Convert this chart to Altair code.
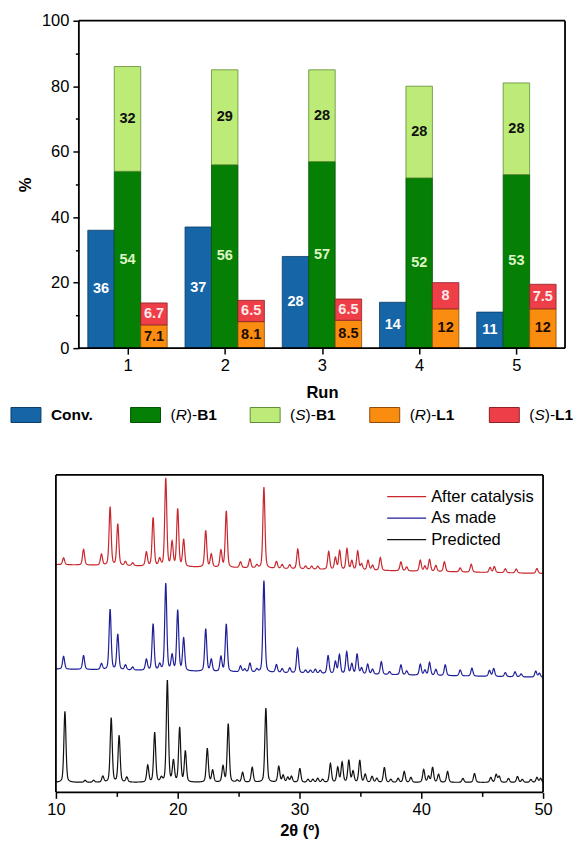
import numpy as np
import pandas as pd
import altair as alt

alt.data_transformers.disable_max_rows()

FONT = "Liberation Sans"

# ---------------- data: top panel (catalytic runs) ----------------
runs = [1, 2, 3, 4, 5]
conv = [36, 37, 28, 14, 11]
r_b1 = [54, 56, 57, 52, 53]
s_b1 = [32, 29, 28, 28, 28]
r_l1 = [7.1, 8.1, 8.5, 12, 12]
s_l1 = [6.7, 6.5, 6.5, 8, 7.5]
series = ["Conv.", "(R)-B1", "(S)-B1", "(R)-L1", "(S)-L1"]

# ---------------- data: PXRD patterns (peak 2θ, peak height, baseline left/right) ----------------
xrd_series = ["After catalysis", "As made", "Predicted"]
pred_pos = [10.74, 12.4, 13.1, 13.85, 14.54, 15.19, 15.82, 17.54, 18.11, 18.66, 19.15, 19.65, 20.16, 20.63,
            22.43, 22.87, 23.72, 24.15, 24.89, 25.33, 26.12, 27.24, 28.3, 28.66, 29.04, 29.34, 30.03, 30.7,
            31.1, 31.5, 31.9, 32.54, 33.14, 33.5, 34.05, 34.4, 34.95, 35.4, 35.96, 36.35, 36.97, 37.5, 38.1,
            38.6, 39.15, 40.2, 40.6, 40.93, 41.42, 42.16, 43.42, 44.37, 45.71, 46.15, 46.4, 47.16, 47.9,
            48.3, 49.0, 49.5, 49.8]
pred_int = [72, 2, 2, 6, 65, 47, 5, 17, 50, 4, 103, 21, 55, 31,
            34, 12, 16, 59, 2, 10, 15, 75, 16, 7, 5, 6, 14, 3,
            3, 4, 3, 19, 15, 20, 22, 11, 22, 8, 6, 4, 15, 3, 4,
            11, 5, 13, 6, 15, 8, 11, 4, 9, 5, 8, 6, 4, 6,
            3, 3, 5, 4]
pred_base = [10, 10]

made_pos = [10.63, 12.27, 13.74, 14.45, 15.08, 15.71, 16.3, 17.43, 17.98, 18.52, 19.02, 19.54, 20.0, 20.49,
            22.3, 22.76, 23.55, 23.99, 25.16, 25.5, 25.93, 26.5, 27.08, 28.11, 28.58, 29.2, 29.84, 30.5,
            30.9, 31.3, 31.7, 32.35, 32.95, 33.28, 33.88, 34.3, 34.73, 35.1, 35.6, 36.0, 36.72, 37.4,
            38.33, 38.8, 39.92, 40.3, 40.68, 41.2, 41.97, 43.2, 44.16, 45.6, 45.95, 46.9, 47.7, 48.2, 49.4, 49.7]
made_int = [13, 14, 6, 61, 36, 5, 3, 11, 47, 6, 88, 15, 61, 33,
            43, 12, 15, 48, 6, 3, 9, 3, 93, 8, 4, 5, 25, 3,
            3, 4, 3, 18, 12, 19, 22, 10, 20, 6, 10, 5, 13, 3,
            10, 4, 11, 5, 13, 6, 11, 6, 8, 6, 8, 4, 5, 3, 6, 4]
made_base = [124.7, 116.3]

cat_pos = [10.63, 12.27, 13.74, 14.45, 15.08, 15.71, 16.3, 17.43, 17.98, 18.52, 19.02, 19.54, 20.0, 20.49,
           22.3, 22.76, 23.55, 23.99, 25.16, 25.93, 26.5, 27.08, 28.11, 28.58, 29.2, 29.86, 30.5, 31.0,
           31.5, 32.4, 32.95, 33.3, 33.9, 34.3, 34.78, 35.1, 35.63, 36.0, 36.64, 38.33, 38.8, 39.92,
           40.3, 40.68, 41.2, 41.9, 43.2, 44.1, 45.65, 46.0, 46.9, 47.8, 49.5]
cat_int = [7, 16, 11, 59, 42, 4, 3, 14, 49, 7, 89, 24, 58, 27,
           37, 13, 17, 57, 6, 9, 3, 82, 7, 4, 4, 20, 3, 3,
           3, 18, 12, 19, 21, 9, 19, 6, 10, 5, 13, 9, 4, 11,
           5, 12, 6, 10, 4, 8, 5, 6, 4, 4, 5]
cat_base = [230.3, 221.3]

# ---------------- styles ----------------
fill_colors = ["#1565a7", "#058005", "#bdeb78", "#fa8c10", "#ee3f48"]
edge_colors = ["#0c3c68", "#025202", "#5f8c36", "#8c4c08", "#8c2026"]
label_colors = ["#ffffff", "#def5c6", "#111111", "#1c0d00", "#ffeaea"]
line_colors = ["#c8282d", "#1f1f99", "#111111"]

# ---------------- top panel ----------------
PX_RUN = 97.4
LEFT_GAP = 23.0
X_LO = 0.5 - LEFT_GAP / PX_RUN
X_HI = 5.5
TOP_W = 510
TOP_H = 328
BAR_W = 26.5 / PX_RUN

rows = []
for i, run in enumerate(runs):
    segs = [(series[0], -1, 0.0, conv[i]),
            (series[1], 0, 0.0, r_b1[i]),
            (series[2], 0, r_b1[i], s_b1[i]),
            (series[3], 1, 0.0, r_l1[i]),
            (series[4], 1, r_l1[i], s_l1[i])]
    for name, shift, base, val in segs:
        c = run + shift * BAR_W
        rows.append({"run": run, "series": name, "x0": c - BAR_W / 2, "x1": c + BAR_W / 2, "xc": c,
                     "y0": base, "y1": base + val, "ym": base + val / 2, "label": f"{val:g}"})
bars_df = pd.DataFrame(rows)

x_top = alt.Scale(domain=[X_LO, X_HI], nice=False, zero=False)
y_top = alt.Scale(domain=[0, 100], nice=False)
fill_scale = alt.Scale(domain=series, range=fill_colors)
edge_scale = alt.Scale(domain=series, range=edge_colors)
label_scale = alt.Scale(domain=series, range=label_colors)

x_top_axis = alt.Axis(values=runs, format="d", tickSize=6, tickWidth=1.5, tickColor="black",
                      labelFont=FONT, labelFontSize=16.5, labelColor="black", labelPadding=3,
                      labelFlush=False, domain=False, grid=False,
                      title="Run", titleFont=FONT, titleFontSize=16.5, titleFontWeight="bold",
                      titleColor="black", titlePadding=11, titleX=(3 - X_LO) * PX_RUN)
y_top_axis = alt.Axis(values=list(range(0, 101, 10)),
                      labelExpr="datum.value % 20 === 0 ? datum.label : ''",
                      tickSize={"condition": {"test": "datum.value % 20 === 0", "value": 6}, "value": 3.5},
                      tickWidth=1.5, tickColor="black", offset=-LEFT_GAP, domain=False, grid=False,
                      labelFont=FONT, labelFontSize=16.5, labelColor="black", labelPadding=4,
                      title="%", titleFont=FONT, titleFontSize=16.5, titleFontWeight="bold",
                      titleColor="black", titlePadding=8)


def XT(field):
    return alt.X(field, type="quantitative", scale=x_top, axis=x_top_axis)


def YT(field):
    return alt.Y(field, type="quantitative", scale=y_top, axis=y_top_axis)


top_frame = pd.DataFrame({"x": [0.5, 5.5, 0.5, 0.5], "x2": [0.5, 5.5, 5.5, 5.5],
                          "y": [0, 0, 0, 100], "y2": [100, 100, 0, 100]})

bars = alt.Chart(bars_df).mark_rect(strokeWidth=0.8).encode(
    x=XT("x0"), x2="x1", y=YT("y0"), y2="y1",
    fill=alt.Fill("series:N", scale=fill_scale, legend=None),
    stroke=alt.Stroke("series:N", scale=edge_scale, legend=None))
bar_labels = alt.Chart(bars_df).mark_text(font=FONT, fontSize=14.5, fontWeight="bold",
                                          align="center", baseline="middle").encode(
    x=XT("xc"), y=YT("ym"), text="label:N",
    color=alt.Color("series:N", scale=label_scale, legend=None))
top_box = alt.Chart(top_frame).mark_rule(color="black", strokeWidth=1.8).encode(
    x=XT("x"), x2="x2", y=YT("y"), y2="y2")
top = alt.layer(bars, bar_labels, top_box).properties(width=TOP_W, height=TOP_H)

# ---------------- custom legend row (mixed italic / bold labels) ----------------
LEG_FS = 15.5
LEG_PX = 119.8      # px between legend items
LEG_FIRST = -30.0   # first swatch centre relative to the plot origin (px)
d0 = -LEG_FIRST / LEG_PX
leg_scale = alt.Scale(domain=[d0, d0 + TOP_W / LEG_PX], nice=False, zero=False)
leg_items = pd.DataFrame({"series": series, "slot": list(range(len(series)))})

em = LEG_FS / 1000.0
W = {"(": 333 * em, ")-": 666 * em, "R": 722 * em, "S": 667 * em}
pieces = [{"slot": 0, "text": "Conv.", "style": "bold", "off": 25.0}]
for slot, name in enumerate(series[1:], start=1):
    letter, comp = name[1], name[4:]
    off = 25.0
    pieces.append({"slot": slot, "text": "(", "style": "normal", "off": off}); off += W["("]
    pieces.append({"slot": slot, "text": letter, "style": "italic", "off": off}); off += W[letter]
    pieces.append({"slot": slot, "text": ")-", "style": "normal", "off": off}); off += W[")-"]
    pieces.append({"slot": slot, "text": comp, "style": "bold", "off": off})
pieces_df = pd.DataFrame(pieces)
pieces_df["xpos"] = pieces_df["slot"] + pieces_df["off"] / LEG_PX

swatch = alt.Chart(leg_items).mark_point(shape="M-1,-0.5L1,-0.5L1,0.5L-1,0.5Z", size=900,
                                         filled=True, opacity=1, strokeWidth=1).encode(
    x=alt.X("slot:Q", scale=leg_scale, axis=None),
    fill=alt.Fill("series:N", scale=fill_scale, legend=None),
    stroke=alt.Stroke("series:N", scale=edge_scale, legend=None))


def leg_text(style, **kw):
    return alt.Chart(pieces_df).transform_filter(alt.datum.style == style).mark_text(
        font=FONT, fontSize=LEG_FS, align="left", baseline="middle", color="black", **kw).encode(
        x=alt.X("xpos:Q", scale=leg_scale, axis=None), text="text:N")


legend_row = alt.layer(swatch, leg_text("normal"), leg_text("italic", fontStyle="italic"),
                       leg_text("bold", fontWeight="bold")).properties(width=TOP_W, height=20)

# ---------------- PXRD panel ----------------
XRD_W = 488
XRD_H = 318
Y_TOP = 321
grid = np.round(np.linspace(10, 50, 2001), 3)


def pattern(pos, inten, base, fwhm=0.2, eta=0.35):
    y = base[0] + (base[1] - base[0]) * (grid - 10) / 40.0
    for p, a in zip(pos, inten):
        d = (grid - p) / fwhm
        y = y + a * (eta / (1 + 4 * d ** 2) + (1 - eta) * np.exp(-4 * np.log(2) * d ** 2))
    return y


xrd_df = pd.concat([
    pd.DataFrame({"tt": grid, "y": pattern(cat_pos, cat_int, cat_base), "series": xrd_series[0]}),
    pd.DataFrame({"tt": grid, "y": pattern(made_pos, made_int, made_base), "series": xrd_series[1]}),
    pd.DataFrame({"tt": grid, "y": pattern(pred_pos, pred_int, pred_base), "series": xrd_series[2]}),
])

x_xrd = alt.Scale(domain=[10, 50], nice=False, zero=False)
y_xrd = alt.Scale(domain=[0, Y_TOP], nice=False)
line_scale = alt.Scale(domain=xrd_series, range=line_colors)
x_xrd_axis = alt.Axis(values=list(range(10, 51, 5)),
                      labelExpr="datum.value % 10 === 0 ? datum.label : ''",
                      tickSize={"condition": {"test": "datum.value % 10 === 0", "value": 6}, "value": 4},
                      tickWidth=1.5, tickColor="black", domain=False, grid=False, labelFlush=False,
                      labelFont=FONT, labelFontSize=16.5, labelColor="black", labelPadding=3,
                      title="2θ (º)", titleFont=FONT, titleFontSize=16.5, titleFontWeight="bold",
                      titleColor="black", titlePadding=5)


def XX(field):
    return alt.X(field, type="quantitative", scale=x_xrd, axis=x_xrd_axis)


def YX(field):
    return alt.Y(field, type="quantitative", scale=y_xrd, axis=None)


lines = alt.Chart(xrd_df).mark_line(strokeWidth=1.2, clip=True).encode(
    x=XX("tt"), y=YX("y"), color=alt.Color("series:N", scale=line_scale, legend=None))

xleg = pd.DataFrame({"series": xrd_series, "rank": [0, 1, 2]})
xleg["y"] = 299 - 21.7 * xleg["rank"]
xleg["x0"] = 37.2
xleg["x1"] = 40.4
xleg_rules = alt.Chart(xleg).mark_rule(strokeWidth=1.3).encode(
    x=XX("x0"), x2="x1", y=YX("y"), color=alt.Color("series:N", scale=line_scale, legend=None))
xleg_text = alt.Chart(xleg).mark_text(font=FONT, fontSize=16.5, align="left", baseline="middle",
                                      dx=5, color="black").encode(
    x=XX("x1"), y=YX("y"), text="series:N")

xrd_frame = pd.DataFrame({"x": [10, 50, 10, 10], "x2": [10, 50, 50, 50],
                          "y": [0, 0, 0, Y_TOP], "y2": [Y_TOP, Y_TOP, 0, Y_TOP]})
xrd_box = alt.Chart(xrd_frame).mark_rule(color="black", strokeWidth=1.8).encode(
    x=XX("x"), x2="x2", y=YX("y"), y2="y2")

xrd = alt.layer(lines, xleg_rules, xleg_text, xrd_box).properties(width=XRD_W, height=XRD_H)

# ---------------- assemble ----------------
upper = alt.vconcat(top, legend_row, spacing=2).resolve_scale(
    color="independent", fill="independent", stroke="independent")
chart = alt.vconcat(upper, xrd, spacing=47).resolve_scale(
    color="independent", fill="independent", stroke="independent").properties(
    padding={"left": 0, "top": 3, "right": 0, "bottom": 0}).configure_view(stroke="transparent")

chart.save("out.html", embed_options={"renderer": "svg", "actions": False})
